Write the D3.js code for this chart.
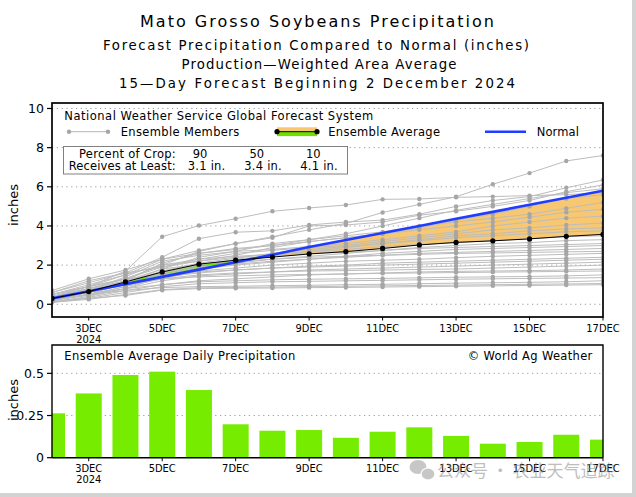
<!DOCTYPE html>
<html><head><meta charset="utf-8">
<script src="https://cdn.jsdelivr.net/npm/d3@7"></script>
<style>
body{margin:0;background:#fff}
svg{display:block}
text{font-family:"DejaVu Sans",sans-serif;fill:#000}
.tk{font-family:"DejaVu Sans Condensed","Liberation Sans Narrow","DejaVu Sans",sans-serif;font-stretch:condensed;font-size:11px}
</style>
</head><body>
<svg id="c" width="636" height="497"></svg>
<script>
// ---- data ----
const days = [2,3,4,5,6,7,8,9,10,11,12,13,14,15,16,17];
const tickDays = [3,5,7,9,11,13,15,17];
const tickLabels = ["3DEC","5DEC","7DEC","9DEC","11DEC","13DEC","15DEC","17DEC"];
const yearLabel = "2024";
const ensembleAverage = [0.30,0.65,1.14,1.65,2.05,2.25,2.41,2.57,2.69,2.85,3.03,3.16,3.24,3.34,3.47,3.57];
const normal = [0.30,0.67,1.03,1.40,1.77,2.15,2.53,2.92,3.28,3.64,4.00,4.37,4.72,5.08,5.44,5.80];
const dailyAverage = [0.263,0.381,0.49,0.51,0.401,0.198,0.16,0.164,0.118,0.154,0.18,0.129,0.083,0.093,0.136,0.107];
const cropPercent = ["90","50","10"];
const receivesAtLeast = ["3.1 in.","3.4 in.","4.1 in."];
const topTicks = [0,2,4,6,8,10];
const bottomTicks = [0,0.25,0.5];
const bottomTickLabels = ["0","0.25","0.5"];
const members = [
 [0.5,0.9,1.7,3.45,4.02,4.37,4.75,4.92,5.07,5.36,5.38,5.46,5.5,5.55,5.6,5.7],
 [0.4,0.8,1.3,2.0,2.7,3.1,3.45,3.8,4.13,4.69,5.1,5.49,6.13,6.7,7.32,7.6],
 [0.6,1.2,1.6,2.4,3.35,3.68,3.75,4.05,4.2,4.3,4.6,5.0,5.3,5.5,5.95,6.35],
 [0.7,1.3,1.75,2.3,2.75,3.1,3.4,4.0,4.05,4.2,4.55,4.75,5.0,5.3,5.75,6.1],
 [0.3,0.6,1.2,2.1,2.6,2.85,3.0,3.3,3.6,4.0,4.4,4.8,5.1,5.4,5.7,5.9],
 [0.5,1.0,1.5,2.3,2.6,2.8,3.0,3.2,3.4,3.6,3.9,4.3,4.6,5.0,5.4,5.6],
 [0.2,0.5,1.1,1.8,2.4,2.7,3.1,3.3,3.5,3.7,4.0,4.2,4.4,4.6,4.9,5.2],
 [0.4,0.8,1.3,2.0,2.2,2.5,2.9,3.2,3.4,3.6,3.8,4.0,4.2,4.45,4.7,4.85],
 [0.3,0.7,1.4,2.2,2.5,2.7,2.8,2.95,3.1,3.3,3.5,3.7,4.0,4.2,4.4,4.5],
 [0.6,1.1,1.6,1.9,2.3,2.6,2.75,2.9,3.0,3.2,3.4,3.6,3.8,3.9,4.05,4.15],
 [0.2,0.5,0.9,1.6,2.0,2.3,2.5,2.7,2.9,3.1,3.3,3.5,3.6,3.75,3.85,3.9],
 [0.3,0.6,1.1,1.7,2.1,2.35,2.6,2.8,2.95,3.1,3.25,3.4,3.5,3.6,3.7,3.75],
 [0.4,0.9,1.3,1.9,2.2,2.4,2.55,2.7,2.8,2.95,3.05,3.15,3.25,3.35,3.45,3.5],
 [0.2,0.6,1.0,1.5,1.9,2.1,2.3,2.45,2.6,2.75,2.9,3.0,3.1,3.15,3.25,3.3],
 [0.5,0.9,1.5,2.0,2.3,2.45,2.55,2.6,2.65,2.75,2.85,2.9,2.95,3.0,3.05,3.1],
 [0.3,0.7,1.2,1.6,1.9,2.05,2.2,2.3,2.45,2.6,2.7,2.8,2.85,2.9,2.95,3.0],
 [0.1,0.4,0.8,1.4,1.8,2.0,2.15,2.3,2.4,2.5,2.6,2.65,2.7,2.75,2.8,2.85],
 [0.4,0.8,1.2,1.8,2.05,2.2,2.3,2.4,2.45,2.5,2.55,2.6,2.62,2.65,2.68,2.7],
 [0.2,0.5,0.9,1.3,1.7,1.85,2.0,2.1,2.2,2.25,2.3,2.38,2.45,2.5,2.55,2.6],
 [0.3,0.6,1.0,1.4,1.6,1.75,1.85,1.95,2.0,2.1,2.15,2.2,2.25,2.3,2.35,2.4],
 [0.5,0.9,1.3,1.5,1.65,1.75,1.85,1.9,1.95,2.0,2.05,2.1,2.15,2.2,2.25,2.3],
 [0.2,0.45,0.8,1.2,1.45,1.55,1.65,1.75,1.8,1.85,1.9,1.95,2.0,2.05,2.1,2.15],
 [0.3,0.7,1.0,1.3,1.5,1.6,1.65,1.7,1.72,1.75,1.78,1.8,1.85,1.9,1.95,2.0],
 [0.15,0.35,0.7,1.0,1.2,1.3,1.4,1.5,1.55,1.6,1.65,1.68,1.7,1.72,1.75,1.8],
 [0.4,0.75,1.1,1.3,1.4,1.45,1.5,1.52,1.55,1.58,1.6,1.62,1.64,1.66,1.68,1.7],
 [0.2,0.5,0.8,1.0,1.15,1.2,1.25,1.28,1.3,1.32,1.35,1.38,1.4,1.42,1.45,1.5],
 [0.1,0.3,0.6,0.9,1.05,1.1,1.15,1.17,1.2,1.22,1.25,1.28,1.3,1.32,1.34,1.36],
 [0.25,0.5,0.7,0.85,0.9,0.92,0.95,0.97,1.0,1.02,1.05,1.08,1.1,1.12,1.15,1.2],
 [0.1,0.25,0.5,0.75,0.84,0.86,0.88,0.9,0.92,0.94,0.96,0.98,1.0,1.02,1.04,1.06],
 [0.15,0.3,0.45,0.72,0.8,0.82,0.83,0.85,0.86,0.88,0.9,0.92,0.94,0.96,0.98,1.0]
];

// ---- layout ----
const svg = d3.select("#c");
const L = 52, R = 603;
const T1 = 103, B1 = 317, T2 = 345, B2 = 457.7;
const x = d3.scaleLinear().domain([2,17]).range([L,R]);
const yT = d3.scaleLinear().domain([-0.65,10.28]).range([B1,T1]);
const yB = d3.scaleLinear().domain([0,0.668]).range([B2,T2]);
const idx = d3.range(days.length);

const defs = svg.append("defs");
defs.append("clipPath").attr("id","clipTop").append("rect").attr("x",L).attr("y",T1).attr("width",R-L).attr("height",B1-T1);
defs.append("clipPath").attr("id","clipBot").append("rect").attr("x",L).attr("y",T2).attr("width",R-L).attr("height",B2-T2);
defs.append("clipPath").attr("id","clipAbove").append("path")
  .attr("d", d3.area().x(i=>x(days[i])).y0(i=>yT(normal[i])).y1(T1-5)(idx));
defs.append("clipPath").attr("id","clipBelow").append("path")
  .attr("d", d3.area().x(i=>x(days[i])).y0(i=>yT(normal[i])).y1(B1+5)(idx));

// ---- titles ----
function txt(s, xx, yy, size, opts={}) {
  const t = svg.append("text").attr("x",xx).attr("y",yy).style("font-size",size+"px").text(s);
  if (opts.anchor) t.attr("text-anchor",opts.anchor);
  if (opts.len) t.attr("textLength",opts.len).attr("lengthAdjust","spacing");
  if (opts.cls) t.attr("class",opts.cls);
  return t;
}
txt("Mato Grosso Soybeans Precipitation", 317, 26.7, 16, {anchor:"middle", len:354});
txt("Forecast Precipitation Compared to Normal (inches)", 316, 50, 13.3, {anchor:"middle", len:426});
txt("Production\u2014Weighted Area Average", 319, 69, 13.3, {anchor:"middle", len:275});
txt("15\u2014Day Forecast Beginning 2 December 2024", 317, 87.7, 13.3, {anchor:"middle", len:396});

// ---- top panel ----
const gTop = svg.append("g");
gTop.selectAll("line.grid").data(topTicks).join("line")
  .attr("x1",L).attr("x2",R).attr("y1",d=>yT(d)).attr("y2",d=>yT(d))
  .attr("stroke","#9a9a9a").attr("stroke-width",1).attr("stroke-dasharray","1.2,3.6");

const plot = gTop.append("g").attr("clip-path","url(#clipTop)");
const between = d3.area().x(i=>x(days[i])).y0(i=>yT(normal[i])).y1(i=>yT(ensembleAverage[i]));
plot.append("path").attr("d",between(idx)).attr("fill","#f7c772").attr("clip-path","url(#clipBelow)");
plot.append("path").attr("d",between(idx)).attr("fill","#6fe000").attr("clip-path","url(#clipAbove)");

const line = d3.line().x((d,i)=>x(days[i])).y(d=>yT(d));
const mg = plot.append("g");
members.forEach(m=>{
  mg.append("path").attr("d",line(m)).attr("fill","none").attr("stroke","#bdbdbd").attr("stroke-width",1);
});
members.forEach(m=>{
  mg.selectAll(null).data(m).join("circle")
    .attr("cx",(d,i)=>x(days[i])).attr("cy",d=>yT(d)).attr("r",2.2).attr("fill","#a6a6a6");
});
plot.append("path").attr("d",line(normal)).attr("fill","none").attr("stroke","#1f3cff").attr("stroke-width",2.6);
plot.append("path").attr("d",line(ensembleAverage)).attr("fill","none").attr("stroke","#000").attr("stroke-width",1);
plot.selectAll("circle.avg").data(ensembleAverage).join("circle").attr("class","avg")
  .attr("cx",(d,i)=>x(days[i])).attr("cy",d=>yT(d)).attr("r",2.6).attr("fill","#000");

// legend
txt("National Weather Service Global Forecast System", 64.3, 120, 11.5, {len:309});
gTop.append("line").attr("x1",69).attr("x2",108).attr("y1",131.7).attr("y2",131.7).attr("stroke","#b5b5b5").attr("stroke-width",1);
[69,108].forEach(cx=>gTop.append("circle").attr("cx",cx).attr("cy",131.7).attr("r",2.2).attr("fill","#a6a6a6"));
txt("Ensemble Members", 120.7, 135.8, 11.5, {len:118.6});
gTop.append("rect").attr("x",277).attr("y",127.3).attr("width",40).attr("height",4.4).attr("fill","#f7c772");
gTop.append("rect").attr("x",277).attr("y",131.7).attr("width",40).attr("height",4.4).attr("fill","#6fe000");
gTop.append("line").attr("x1",277).attr("x2",317).attr("y1",131.7).attr("y2",131.7).attr("stroke","#000").attr("stroke-width",1);
[277,317].forEach(cx=>gTop.append("circle").attr("cx",cx).attr("cy",131.7).attr("r",2.6).attr("fill","#000"));
txt("Ensemble Average", 328.3, 135.8, 11.5, {len:111.7});
gTop.append("line").attr("x1",485).attr("x2",526).attr("y1",131.7).attr("y2",131.7).attr("stroke","#1f3cff").attr("stroke-width",2.6);
txt("Normal", 536.7, 135.8, 11.5, {len:42.3});

// crop table
gTop.append("rect").attr("x",63.5).attr("y",146.5).attr("width",284).attr("height",27.5)
  .attr("fill","#fff").attr("stroke","#808080").attr("stroke-width",1);
txt("Percent of Crop:", 175.7, 158, 11.5, {anchor:"end", len:96.7});
txt("Receives at Least:", 175.7, 169.5, 11.5, {anchor:"end", len:107});
const pctX = [200, 256.7, 313.3], recX = [206.5, 263, 319];
cropPercent.forEach((p,i)=>txt(p, pctX[i], 158, 11.5, {anchor:"middle"}));
receivesAtLeast.forEach((r,i)=>txt(r, recX[i], 169.5, 11.5, {anchor:"middle", len:37.5}));

// frame + axes
gTop.append("rect").attr("x",L).attr("y",T1).attr("width",R-L).attr("height",B1-T1)
  .attr("fill","none").attr("stroke","#000").attr("stroke-width",1.7);
topTicks.forEach(t=>{
  gTop.append("line").attr("x1",L-5).attr("x2",L).attr("y1",yT(t)).attr("y2",yT(t)).attr("stroke","#000").attr("stroke-width",1.2);
  txt(String(t), 44, yT(t)+4.3, 12.5, {anchor:"end"});
});
tickDays.forEach((d,i)=>{
  gTop.append("line").attr("x1",x(d)).attr("x2",x(d)).attr("y1",B1).attr("y2",B1+3.5).attr("stroke","#000").attr("stroke-width",1);
  txt(tickLabels[i], x(d), 331.6, 11, {anchor:"middle", cls:"tk"});
});
txt(yearLabel, x(3), 343.2, 11, {anchor:"middle", cls:"tk"});
svg.append("text").attr("transform","translate(18,205) rotate(-90)").attr("text-anchor","middle")
  .style("font-size","13px").text("inches");

// ---- bottom panel ----
const gBot = svg.append("g");
bottomTicks.slice(1).forEach(t=>{
  gBot.append("line").attr("x1",L).attr("x2",R).attr("y1",yB(t)).attr("y2",yB(t))
    .attr("stroke","#9a9a9a").attr("stroke-dasharray","1.2,3.6");
});
const bw = 26;
gBot.append("g").attr("clip-path","url(#clipBot)").selectAll("rect").data(dailyAverage).join("rect")
  .attr("x",(d,i)=>x(days[i])-bw/2).attr("width",bw)
  .attr("y",d=>yB(d)).attr("height",d=>yB(0)-yB(d))
  .attr("fill","#76ec00");
gBot.append("path").attr("d",`M${L},${B2}V${T2}H${R}V${B2}`).attr("fill","none").attr("stroke","#000").attr("stroke-width",1.4);
gBot.append("line").attr("x1",L).attr("x2",R).attr("y1",B2).attr("y2",B2).attr("stroke","#000").attr("stroke-width",1.6);
bottomTicks.forEach((t,i)=>{
  gBot.append("line").attr("x1",L-5).attr("x2",L).attr("y1",yB(t)).attr("y2",yB(t)).attr("stroke","#000").attr("stroke-width",1.2);
  txt(bottomTickLabels[i], 44, yB(t)+4.3, 12.5, {anchor:"end"});
});
tickDays.forEach((d,i)=>{
  gBot.append("line").attr("x1",x(d)).attr("x2",x(d)).attr("y1",B2).attr("y2",B2+3.5).attr("stroke","#000").attr("stroke-width",1);
  txt(tickLabels[i], x(d), 471.6, 11, {anchor:"middle", cls:"tk"});
});
txt(yearLabel, x(3), 483.3, 11, {anchor:"middle", cls:"tk"});
svg.append("text").attr("transform","translate(18,400) rotate(-90)").attr("text-anchor","middle")
  .style("font-size","13px").text("inches");
txt("Ensemble Average Daily Precipitation", 64.3, 360, 11.5, {len:231});
txt("\u00A9 World Ag Weather", 592.3, 360, 11.5, {anchor:"end", len:124.6});

// ---- watermark ----
const wm = svg.append("g").attr("opacity",0.55);
wm.append("ellipse").attr("cx",418).attr("cy",467).attr("rx",8.5).attr("ry",7).attr("fill","#9a9a9a");
wm.append("ellipse").attr("cx",428).attr("cy",474).attr("rx",7).attr("ry",6).attr("fill","#9a9a9a").attr("stroke","#fff").attr("stroke-width",1.2);
wm.append("text").attr("x",437).attr("y",477).style("font-family","'Noto Sans CJK SC',sans-serif")
  .style("font-size","17px").style("fill","#8a8a8a").text("公众号 · 农业天气追踪");

// ---- outer border ----
svg.append("rect").attr("x",632).attr("y",0).attr("width",4).attr("height",497).attr("fill","#d3d3d3");
svg.append("rect").attr("x",0).attr("y",493).attr("width",636).attr("height",4).attr("fill","#d3d3d3");
</script>
</body></html>
